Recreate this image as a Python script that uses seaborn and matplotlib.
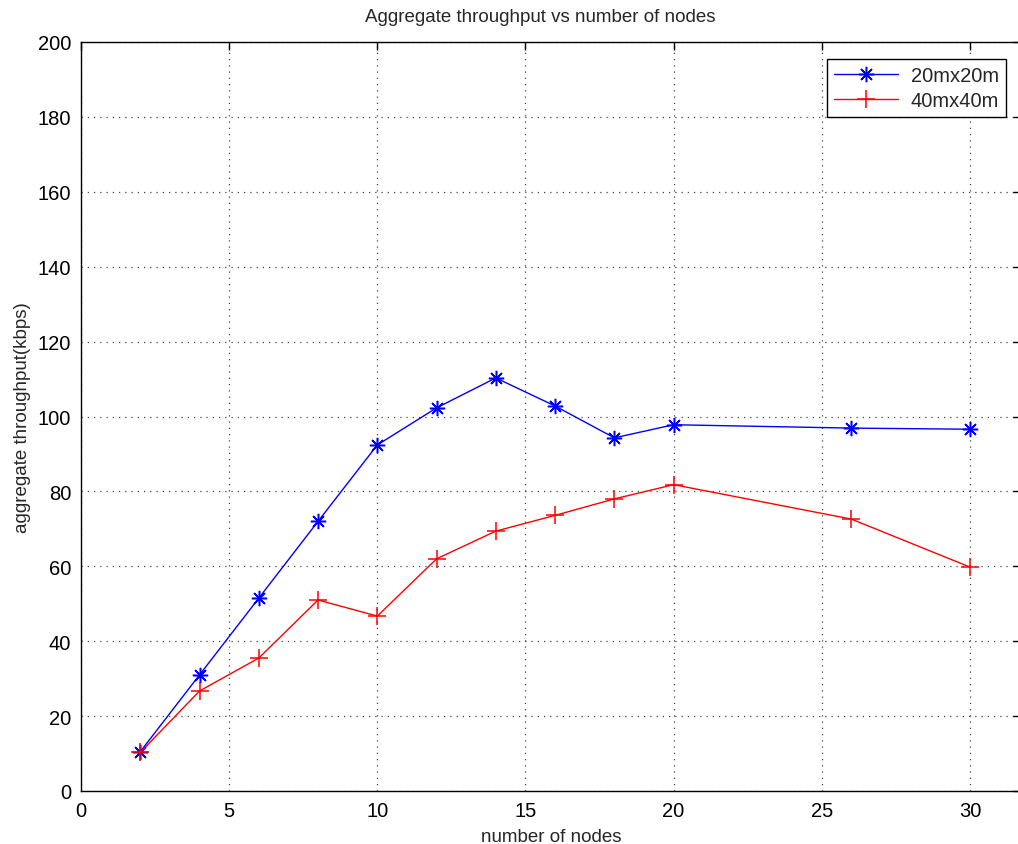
import matplotlib
matplotlib.use("Agg")
import matplotlib.pyplot as plt
import seaborn as sns
import pandas as pd

nodes = [2, 4, 6, 8, 10, 12, 14, 16, 18, 20, 26, 30]
thr_20m = [10.5, 31.0, 51.5, 72.0, 92.4, 102.3, 110.3, 102.8, 94.3, 97.8, 96.9, 96.6]
thr_40m = [10.3, 26.7, 35.5, 51.0, 46.7, 62.0, 69.4, 73.6, 78.0, 81.8, 72.6, 59.8]
series_labels = ["20mx20m", "40mx40m"]
x_ticks = [0, 5, 10, 15, 20, 25, 30]
y_ticks = list(range(0, 201, 20))

sns.set_style("white")
plt.rcParams["font.family"] = ["Liberation Sans", "DejaVu Sans"]

fig = plt.figure(figsize=(10.18, 8.45), dpi=100)
ax = fig.add_axes([81 / 1018, 53 / 845, 940 / 1018, 749 / 845])

df = pd.DataFrame({
    "nodes": nodes * 2,
    "thr": thr_20m + thr_40m,
    "area": [series_labels[0]] * len(nodes) + [series_labels[1]] * len(nodes),
})

# asterisk marker: four strokes through the centre (plus overlaid with x)
asterisk = (8, 2, 0)

sns.lineplot(data=df[df.area == series_labels[0]], x="nodes", y="thr", ax=ax,
             color="#0000ff", marker=asterisk, markersize=11, markeredgewidth=1.1,
             markeredgecolor="#0000ff", linewidth=1.0,
             label=series_labels[0])
sns.lineplot(data=df[df.area == series_labels[1]], x="nodes", y="thr", ax=ax,
             color="#ff0000", marker="+", markersize=12.5, markeredgewidth=1.1,
             markeredgecolor="#ff0000", linewidth=1.0, label=series_labels[1])

ax.set_xlim(0, 940 / 29.63)
ax.set_ylim(0, 200)
ax.set_xticks(x_ticks)
ax.set_yticks(y_ticks)
ax.tick_params(direction="in", length=6, width=1, top=True, right=True,
               labelsize=14.5, colors="black", pad=7)
ax.grid(True, linestyle=(0, (1, 4)), color="#444444", linewidth=0.9)
for s in ax.spines.values():
    s.set_color("black")
    s.set_linewidth(1.0)

ax.set_xlabel("number of nodes", fontsize=13.5, labelpad=6)
ax.set_ylabel("aggregate throughput(kbps)", fontsize=13.5, labelpad=5)
fig.text(540 / 1018, 1 - 18 / 845, "Aggregate throughput vs number of nodes",
         ha="center", va="center", fontsize=13.5)

leg = ax.legend(loc="upper left", bbox_to_anchor=(827 / 1018, 1 - 60 / 845),
                bbox_transform=fig.transFigure, fancybox=False, framealpha=1,
                edgecolor="black", fontsize=14.5, handlelength=3.2,
                borderpad=0.35, labelspacing=0.3, handletextpad=0.6,
                borderaxespad=0)
leg.get_frame().set_linewidth(1.0)

fig.savefig("out.png", dpi=100)
